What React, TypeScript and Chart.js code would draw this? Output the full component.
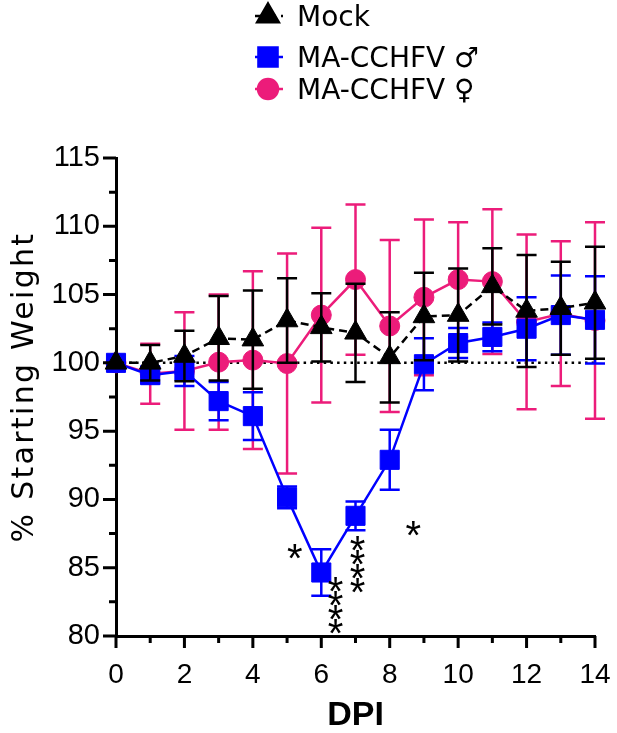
import { useEffect, useRef } from 'react';
import { Chart, registerables } from 'chart.js';
import { drawPoint } from 'chart.js/helpers';
import type { Plugin } from 'chart.js';

Chart.register(...registerables);

const FONT = '"Liberation Sans", Arial, "DejaVu Sans", sans-serif';
const WIDE_FONT = '"DejaVu Sans", "Liberation Sans", sans-serif';
const BLACK = '#000000';
const BLUE = '#0000FF';
const PINK = '#EC1C7A';

// days post infection
const days = [0, 1, 2, 3, 4, 5, 6, 7, 8, 9, 10, 11, 12, 13, 14];

// % starting weight, mean and SD per day
const mockMean = [100, 100.0, 100.5, 101.8, 101.7, 103.1, 102.6, 102.2, 100.4, 103.4, 103.5, 105.6, 103.8, 104.0, 104.4];
const mockSd = [0, 1.3, 1.85, 3.1, 3.6, 3.1, 2.5, 3.6, 3.3, 3.2, 3.4, 2.8, 4.1, 3.4, 4.1];

const maleMean = [100, 99.1, 99.4, 97.2, 96.1, 90.15, 84.65, 88.8, 92.9, 99.9, 101.45, 101.9, 102.5, 103.5, 103.15];
const maleSd = [0, 0.6, 1.1, 1.4, 1.75, 0.8, 1.7, 1.05, 2.2, 1.9, 1.1, 1.05, 2.3, 2.9, 3.2];

const femaleMean = [100, 99.2, 99.4, 100.05, 100.2, 99.95, 103.5, 106.1, 102.7, 104.8, 106.1, 105.95, 103.0, 103.6, 103.1];
const femaleSd = [0, 2.2, 4.3, 4.95, 6.5, 8.05, 6.4, 5.5, 6.3, 5.7, 4.2, 5.3, 6.4, 5.3, 7.2];

// dotted 100% reference
const refX = [0, 14];
const refY = [100, 100];

const xTicks = [0, 2, 4, 6, 8, 10, 12, 14];
const yTicks = [80, 85, 90, 95, 100, 105, 110, 115];

const yTitle = '% Starting Weight';

// significance marks (x in DPI, y = value of the top asterisk)
const sigX = [5.22, 6.41, 7.05, 8.68];
const sigY = [86.2, 83.8, 86.8, 87.9];
const sigMarks = ['*', '****', '****', '*'];

const toXY = (ys: number[]) => days.map((d, i) => ({ x: d, y: ys[i] }));

const errorBarPlugin: Plugin<'line'> = {
  id: 'errorBars',
  beforeDatasetDraw(chart, args) {
    const ds: any = chart.data.datasets[args.index];
    if (!ds.sd) return;
    const { ctx } = chart;
    const yScale = chart.scales.y;
    ctx.save();
    ctx.strokeStyle = ds.borderColor;
    ctx.lineWidth = 2.5;
    ctx.setLineDash([]);
    args.meta.data.forEach((pt: any, i: number) => {
      const sd = ds.sd[i];
      if (!sd) return;
      const m = ds.data[i].y;
      const top = yScale.getPixelForValue(m + sd);
      const bot = yScale.getPixelForValue(m - sd);
      ctx.beginPath();
      ctx.moveTo(pt.x, top);
      ctx.lineTo(pt.x, bot);
      ctx.moveTo(pt.x - 10, top);
      ctx.lineTo(pt.x + 10, top);
      ctx.moveTo(pt.x - 10, bot);
      ctx.lineTo(pt.x + 10, bot);
      ctx.stroke();
    });
    ctx.restore();
  },
};

const axisTicksPlugin: Plugin<'line'> = {
  id: 'axisTicks',
  afterDraw(chart) {
    const { ctx, chartArea } = chart;
    const xs = chart.scales.x;
    const ys = chart.scales.y;
    const base = chartArea.bottom;
    const left = chartArea.left;
    ctx.save();
    ctx.strokeStyle = BLACK;
    ctx.lineWidth = 3;
    ctx.beginPath();
    xTicks.forEach((v, i) => {
      const px = xs.getPixelForValue(v);
      ctx.moveTo(px, base);
      ctx.lineTo(px, base + 12);
      if (i < xTicks.length - 1) {
        const mx = xs.getPixelForValue((v + xTicks[i + 1]) / 2);
        ctx.moveTo(mx, base);
        ctx.lineTo(mx, base + 7);
      }
    });
    yTicks.forEach((v, i) => {
      const py = ys.getPixelForValue(v);
      ctx.moveTo(left, py);
      ctx.lineTo(left - 13, py);
      if (i < yTicks.length - 1) {
        const my = ys.getPixelForValue((v + yTicks[i + 1]) / 2);
        ctx.moveTo(left, my);
        ctx.lineTo(left - 7, my);
      }
    });
    ctx.stroke();

    // rotated y title, spaced out like the original
    ctx.fillStyle = BLACK;
    ctx.font = `30px ${WIDE_FONT}`;
    (ctx as any).letterSpacing = '2.3px';
    ctx.textAlign = 'center';
    ctx.textBaseline = 'alphabetic';
    ctx.translate(33, (chartArea.top + chartArea.bottom) / 2 - 10);
    ctx.rotate(-Math.PI / 2);
    ctx.fillText(yTitle, 0, 0);
    ctx.restore();
  },
};

const sigPlugin: Plugin<'line'> = {
  id: 'sigMarks',
  afterDatasetsDraw(chart) {
    const { ctx } = chart;
    const xs = chart.scales.x;
    const ys = chart.scales.y;
    ctx.save();
    ctx.fillStyle = BLACK;
    ctx.font = `40px ${FONT}`;
    ctx.textAlign = 'left';
    ctx.textBaseline = 'alphabetic';
    const m = ctx.measureText('*');
    const dx = (m.actualBoundingBoxRight - m.actualBoundingBoxLeft) / 2;
    const dy = (m.actualBoundingBoxDescent - m.actualBoundingBoxAscent) / 2;
    sigX.forEach((x, i) => {
      const px = xs.getPixelForValue(x);
      const py = ys.getPixelForValue(sigY[i]);
      for (let k = 0; k < sigMarks[i].length; k++) {
        ctx.fillText('*', px - dx, py + k * 14.2 - dy);
      }
    });
    ctx.restore();
  },
};

const legendRows = [16, 57, 89];

const legendPlugin: Plugin<'line'> = {
  id: 'sideLegend',
  afterDraw(chart) {
    const { ctx } = chart;
    ctx.save();
    let row = 0;
    chart.data.datasets.forEach((d: any) => {
      if (!d.label) return;
      const cy = legendRows[row++];
      ctx.strokeStyle = d.borderColor;
      ctx.lineWidth = 2.5;
      ctx.setLineDash(d.borderDash || []);
      ctx.beginPath();
      ctx.moveTo(255, cy);
      ctx.lineTo(283, cy);
      ctx.stroke();
      ctx.setLineDash([]);
      ctx.fillStyle = d.pointBackgroundColor;
      ctx.strokeStyle = d.pointBackgroundColor;
      drawPoint(ctx, { pointStyle: d.pointStyle, radius: d.pointRadius, rotation: 0, borderWidth: 1 }, 268, cy);
      ctx.fillStyle = BLACK;
      ctx.font = `28px ${WIDE_FONT}`;
      ctx.textBaseline = 'alphabetic';
      ctx.fillText(d.label, 297, cy + 10);
    });
    ctx.restore();
  },
};

const WeightChart = () => {
  const canvasRef = useRef<HTMLCanvasElement | null>(null);

  useEffect(() => {
    const canvas = canvasRef.current;
    if (!canvas) return;
    const ctx = canvas.getContext('2d');
    if (!ctx) return;

    Chart.defaults.font.family = FONT;
    Chart.defaults.color = BLACK;

    const chart = new Chart(ctx, {
      type: 'line',
      data: {
        datasets: [
          {
            label: 'Mock',
            data: toXY(mockMean),
            sd: mockSd,
            borderColor: BLACK,
            backgroundColor: BLACK,
            borderWidth: 2.5,
            borderDash: [8, 5],
            pointStyle: 'triangle',
            pointRadius: 12.5,
            pointBackgroundColor: BLACK,
            pointBorderColor: BLACK,
            pointBorderWidth: 1,
          },
          {
            label: 'MA-CCHFV ♂',
            data: toXY(maleMean),
            sd: maleSd,
            borderColor: BLUE,
            backgroundColor: BLUE,
            borderWidth: 2.5,
            pointStyle: 'rect',
            pointRadius: 13.5,
            pointBackgroundColor: BLUE,
            pointBorderColor: BLUE,
            pointBorderWidth: 1,
          },
          {
            label: 'MA-CCHFV ♀',
            data: toXY(femaleMean),
            sd: femaleSd,
            borderColor: PINK,
            backgroundColor: PINK,
            borderWidth: 2.5,
            pointStyle: 'circle',
            pointRadius: 10,
            pointBackgroundColor: PINK,
            pointBorderColor: PINK,
            pointBorderWidth: 1,
          },
          {
            data: refX.map((x, i) => ({ x, y: refY[i] })),
            borderColor: BLACK,
            borderWidth: 2.5,
            borderDash: [2.5, 4.2],
            pointRadius: 0,
          },
        ] as any,
      },
      options: {
        animation: false,
        responsive: true,
        maintainAspectRatio: false,
        clip: false as any,
        layout: { padding: { top: 158, right: 22, bottom: 0, left: 0 } },
        plugins: {
          legend: { display: false },
          tooltip: { enabled: false },
        },
        scales: {
          x: {
            type: 'linear',
            min: 0,
            max: 14,
            grid: { display: false, drawTicks: false },
            border: { display: true, color: BLACK, width: 3 },
            ticks: { stepSize: 2, font: { size: 28 }, color: BLACK, padding: 22 },
            title: { display: true, text: 'DPI', font: { size: 34, weight: 'bold', lineHeight: 1 }, color: BLACK, padding: 0 },
            afterFit: (s: any) => {
              s.height = 97;
              s.paddingLeft = 0;
              s.paddingRight = 0;
            },
          },
          y: {
            min: 80,
            max: 115,
            grid: { display: false, drawTicks: false },
            border: { display: true, color: BLACK, width: 3 },
            ticks: { stepSize: 5, font: { size: 29 }, color: BLACK, padding: 16 },
            title: { display: false },
            afterFit: (s) => {
              s.width = 116;
            },
          },
        },
      },
      plugins: [errorBarPlugin, sigPlugin, axisTicksPlugin, legendPlugin],
    });

    return () => {
      chart.destroy();
    };
  }, []);

  return (
    <div style={{ position: 'absolute', left: 0, top: 0, width: 617, height: 733, background: '#fff' }}>
      <canvas ref={canvasRef} />
    </div>
  );
};

export default function App() {
  return <WeightChart />;
}
